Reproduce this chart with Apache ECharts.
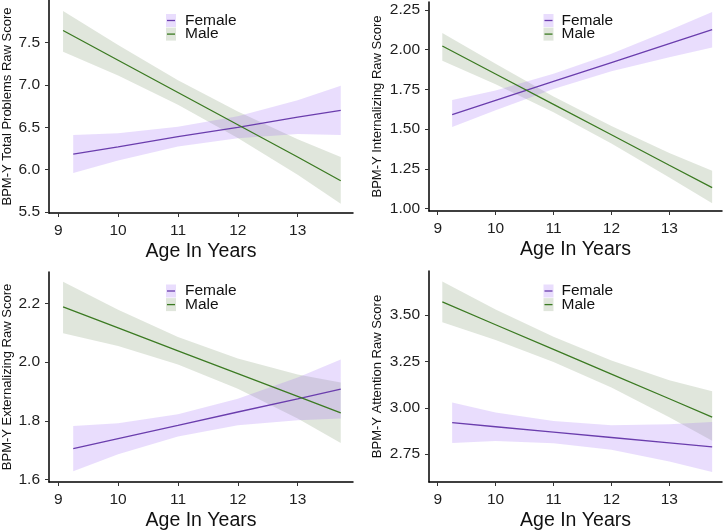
<!DOCTYPE html>
<html>
<head>
<meta charset="utf-8">
<script src="https://cdn.jsdelivr.net/npm/echarts@6/dist/echarts.min.js"></script>
<style>
html,body{margin:0;padding:0;background:#fff;}
#chart{width:727px;height:532px;}
</style>
</head>
<body>
<div id="chart"></div>
<script>
// ---------- DATA ----------
const ageTicks = [9, 10, 11, 12, 13];
const groupNames = ['Female', 'Male'];
const xTitle = 'Age In Years';
const yTitles = [
  'BPM-Y Total Problems Raw Score',
  'BPM-Y Internalizing Raw Score',
  'BPM-Y Externalizing Raw Score',
  'BPM-Y Attention Raw Score'
];
const yTicks1 = [5.5, 6.0, 6.5, 7.0, 7.5];
const yTicks2 = [1.00, 1.25, 1.50, 1.75, 2.00, 2.25];
const yTicks3 = [1.6, 1.8, 2.0, 2.2];
const yTicks4 = [2.75, 3.00, 3.25, 3.50];

// Panel 1: Total Problems
const p1FemaleAge  = [9.25, 10, 11, 12, 13, 13.72];
const p1FemaleFit  = [6.185, 6.27, 6.39, 6.50, 6.62, 6.70];
const p1FemaleLow  = [5.96, 6.11, 6.275, 6.37, 6.42, 6.41];
const p1FemaleHigh = [6.41, 6.43, 6.505, 6.63, 6.82, 6.99];
const p1MaleAge  = [9.08, 10, 11, 12, 13, 13.72];
const p1MaleFit  = [7.64, 7.29, 6.91, 6.53, 6.15, 5.87];
const p1MaleLow  = [7.39, 7.11, 6.765, 6.375, 5.94, 5.60];
const p1MaleHigh = [7.87, 7.47, 7.055, 6.685, 6.36, 6.15];

// Panel 2: Internalizing
const p2FemaleAge  = [9.25, 10, 11, 12, 13, 13.74];
const p2FemaleFit  = [1.592, 1.681, 1.80, 1.919, 2.038, 2.126];
const p2FemaleLow  = [1.513, 1.619, 1.752, 1.864, 1.953, 2.013];
const p2FemaleHigh = [1.684, 1.743, 1.848, 1.974, 2.123, 2.237];
const p2MaleAge  = [9.08, 10, 11, 12, 13, 13.74];
const p2MaleFit  = [2.023, 1.847, 1.656, 1.465, 1.273, 1.132];
const p2MaleLow  = [1.93, 1.782, 1.606, 1.41, 1.196, 1.034];
const p2MaleHigh = [2.105, 1.912, 1.706, 1.52, 1.35, 1.239];

// Panel 3: Externalizing
const p3FemaleAge  = [9.25, 10, 11, 12, 13, 13.72];
const p3FemaleFit  = [1.705, 1.739, 1.784, 1.830, 1.875, 1.908];
const p3FemaleLow  = [1.628, 1.686, 1.746, 1.785, 1.802, 1.808];
const p3FemaleHigh = [1.782, 1.792, 1.822, 1.875, 1.948, 2.009];
const p3MaleAge  = [9.08, 10, 11, 12, 13, 13.72];
const p3MaleFit  = [2.189, 2.117, 2.039, 1.961, 1.883, 1.827];
const p3MaleLow  = [2.099, 2.055, 1.992, 1.909, 1.808, 1.724];
const p3MaleHigh = [2.275, 2.179, 2.086, 2.013, 1.958, 1.931];

// Panel 4: Attention
const p4FemaleAge  = [9.25, 10, 11, 12, 13, 13.74];
const p4FemaleFit  = [2.920, 2.898, 2.869, 2.840, 2.811, 2.789];
const p4FemaleLow  = [2.811, 2.821, 2.809, 2.774, 2.711, 2.654];
const p4FemaleHigh = [3.029, 2.975, 2.929, 2.906, 2.911, 2.924];
const p4MaleAge  = [9.08, 10, 11, 12, 13, 13.74];
const p4MaleFit  = [3.571, 3.448, 3.315, 3.182, 3.049, 2.950];
const p4MaleLow  = [3.461, 3.366, 3.247, 3.109, 2.949, 2.823];
const p4MaleHigh = [3.681, 3.53, 3.383, 3.255, 3.149, 3.089];

// ---------- STYLE / LAYOUT ----------
const FEMALE_LINE = '#6a3dad';
const MALE_LINE = '#3b7a22';
const FEMALE_FILL = 'rgba(155,100,245,0.22)';
const MALE_FILL = 'rgba(100,130,80,0.2)';
const FONT = 'Liberation Sans, Arial, sans-serif';

const panels = [
  {grid:{left:48, top:0, width:305, height:213}, x:[8.845, 13.925], y:[5.49, 8.0], yTicks:yTicks1, dec:1, nameGap:35, legend:[171,185,20.5],
   f:[p1FemaleAge,p1FemaleFit,p1FemaleLow,p1FemaleHigh], m:[p1MaleAge,p1MaleFit,p1MaleLow,p1MaleHigh]},
  {grid:{left:429, top:2, width:293, height:209}, x:[8.85, 13.91], y:[0.985, 2.30], yTicks:yTicks2, dec:2, nameGap:45, legend:[548.5,561.5,20.5],
   f:[p2FemaleAge,p2FemaleFit,p2FemaleLow,p2FemaleHigh], m:[p2MaleAge,p2MaleFit,p2MaleLow,p2MaleHigh]},
  {grid:{left:48, top:272, width:305, height:213}, x:[8.845, 13.925], y:[1.591, 2.308], yTicks:yTicks3, dec:1, nameGap:35, legend:[171,185,291],
   f:[p3FemaleAge,p3FemaleFit,p3FemaleLow,p3FemaleHigh], m:[p3MaleAge,p3MaleFit,p3MaleLow,p3MaleHigh]},
  {grid:{left:429, top:271, width:293, height:214}, x:[8.85, 13.91], y:[2.60, 3.738], yTicks:yTicks4, dec:2, nameGap:45, legend:[548.5,561.5,291],
   f:[p4FemaleAge,p4FemaleFit,p4FemaleLow,p4FemaleHigh], m:[p4MaleAge,p4MaleFit,p4MaleLow,p4MaleHigh]}
];

const chart = echarts.init(document.getElementById('chart'), null, {renderer:'canvas'});

const grids = [], xAxes = [], yAxes = [], series = [], graphics = [];

function bandSeries(idx, name, xs, lo, hi, fill) {
  return {
    type:'custom', name:name + ' CI', xAxisIndex:idx, yAxisIndex:idx, silent:true, z:1, clip:false,
    data: xs.map((x, i) => [x, lo[i], hi[i]]),
    encode: {x:0, y:[1, 2]},
    renderItem: function (params, api) {
      if (params.dataIndex !== 0) return null;
      const pts = [];
      for (let i = 0; i < xs.length; i++) pts.push(api.coord([xs[i], hi[i]]));
      for (let i = xs.length - 1; i >= 0; i--) pts.push(api.coord([xs[i], lo[i]]));
      return {type:'polygon', shape:{points:pts}, style:{fill:fill, stroke:null}};
    }
  };
}
function lineSeries(idx, name, xs, fit, color) {
  return {
    type:'line', name:name, xAxisIndex:idx, yAxisIndex:idx, symbol:'none', z:3, silent:true,
    data: xs.map((x, i) => [x, fit[i]]),
    lineStyle:{color:color, width:1.3}, itemStyle:{color:color}
  };
}

panels.forEach((p, i) => {
  grids.push(Object.assign({containLabel:false}, p.grid));
  xAxes.push({
    type:'value', gridIndex:i, min:p.x[0], max:p.x[1],
    axisLine:{show:true, onZero:false, lineStyle:{color:'#000', width:1.5}},
    axisTick:{show:true, length:4, lineStyle:{color:'#333', width:1}, customValues:ageTicks},
    axisLabel:{fontSize:15.5, color:'#1e1e1e', fontFamily:FONT, margin:10, customValues:ageTicks},
    splitLine:{show:false},
    name:xTitle, nameLocation:'middle', nameGap:29,
    nameTextStyle:{fontSize:19.5, color:'#111', fontFamily:FONT}
  });
  yAxes.push({
    type:'value', gridIndex:i, min:p.y[0], max:p.y[1],
    axisLine:{show:true, onZero:false, lineStyle:{color:'#000', width:1.5}},
    axisTick:{show:true, length:4, lineStyle:{color:'#333', width:1}, customValues:p.yTicks},
    axisLabel:{fontSize:15.5, color:'#1e1e1e', fontFamily:FONT, margin:9, customValues:p.yTicks,
      formatter: v => Number(v).toFixed(p.dec)},
    splitLine:{show:false},
    name:yTitles[i], nameLocation:'middle', nameGap:p.nameGap, nameRotate:90,
    nameTextStyle:{fontSize:13, color:'#111', fontFamily:FONT}
  });
  series.push(bandSeries(i, groupNames[1], p.m[0], p.m[2], p.m[3], MALE_FILL));
  series.push(bandSeries(i, groupNames[0], p.f[0], p.f[2], p.f[3], FEMALE_FILL));
  series.push(lineSeries(i, groupNames[0], p.f[0], p.f[1], FEMALE_LINE));
  series.push(lineSeries(i, groupNames[1], p.m[0], p.m[1], MALE_LINE));

  // legend (key box + line + label)
  const [kx, tx, ky] = p.legend;
  const rows = [[groupNames[0], FEMALE_FILL, FEMALE_LINE], [groupNames[1], MALE_FILL, MALE_LINE]];
  rows.forEach((r, j) => {
    const cy = ky + j * 13.6;
    graphics.push({type:'rect', shape:{x:kx-5, y:cy-6.5, width:10, height:13}, style:{fill:r[1]}, silent:true});
    graphics.push({type:'line', shape:{x1:kx-4, y1:cy, x2:kx+4, y2:cy}, style:{stroke:r[2], lineWidth:1.3}, silent:true});
    graphics.push({type:'text', x:tx, y:cy, style:{text:r[0], fontSize:15.5, fontFamily:FONT, fill:'#111', verticalAlign:'middle', align:'left'}, silent:true});
  });
});

chart.setOption({
  animation:false,
  backgroundColor:'#fff',
  grid:grids, xAxis:xAxes, yAxis:yAxes, series:series, graphic:graphics
});
</script>
</body>
</html>
